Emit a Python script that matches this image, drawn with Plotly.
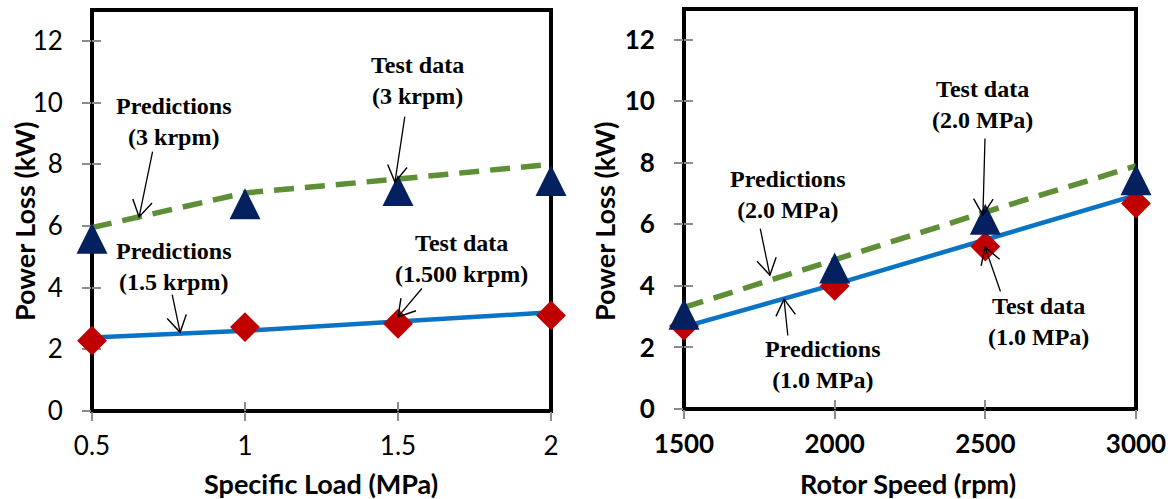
import math
import plotly.graph_objects as go

# ---------------- data ----------------
load_mpa = [0.5, 1.0, 1.5, 2.0]
pred_load_3krpm = [5.95, 7.07, 7.52, 8.0]
test_load_3krpm = [5.6, 6.72, 7.15, 7.47]
pred_load_15krpm = [2.38, 2.6, 2.9, 3.2]
test_load_15krpm = [2.28, 2.72, 2.83, 3.1]

speed_rpm = [1500, 2000, 2500, 3000]
pred_speed_20mpa = [3.3, 4.85, 6.4, 7.9]
test_speed_20mpa = [3.08, 4.58, 6.17, 7.45]
pred_speed_10mpa = [2.67, 4.05, 5.5, 6.95]
test_speed_10mpa = [2.7, 4.0, 5.28, 6.68]

power_ticks = [0, 2, 4, 6, 8, 10, 12]
load_ticks = [0.5, 1, 1.5, 2]
load_tick_text = ["0.5", "1", "1.5", "2"]
speed_ticks = [1500, 2000, 2500, 3000]
speed_tick_text = ["1500", "2000", "2500", "3000"]

# ---------------- style ----------------
W, H = 1170, 499
GREEN = "#5E8E36"
BLUE = "#0A73C4"
NAVY = "#04205E"
RED = "#C00000"
TICK_C = "#8C8C8C"
SANS = "Lato"
SERIF = "Liberation Serif"
Y_RANGE = [0, 13]
LOAD_RANGE = [0.5, 2]
SPEED_RANGE = [1500, 3000]
TRI_SIZE = 31

# plot-area boxes in pixels (left, right, top, bottom)
L_BOX = (92, 551, 10, 411)
R_BOX = (684, 1136, 9, 409)


def dom(box):
    l, r, t, b = box
    return [l / W, r / W], [1 - b / H, 1 - t / H]


L_DOM_X, L_DOM_Y = dom(L_BOX)
R_DOM_X, R_DOM_Y = dom(R_BOX)


def tri_range(box):
    # overlay range shifted so the tip-anchored triangle is centred on its value
    px_per_unit = (box[3] - box[2]) / (Y_RANGE[1] - Y_RANGE[0])
    shift = (TRI_SIZE / 2) / px_per_unit
    return [Y_RANGE[0] - shift, Y_RANGE[1] - shift]


fig = go.Figure()


def add_panel(xa, ya, ya_tri, xs, pred_hi, test_hi, pred_lo, test_lo):
    fig.add_trace(go.Scatter(x=xs, y=pred_hi, mode="lines", xaxis=xa, yaxis=ya,
                             line=dict(color=GREEN, width=5.5, dash="20px,11px"),
                             showlegend=False, hoverinfo="skip"))
    fig.add_trace(go.Scatter(x=xs, y=pred_lo, mode="lines", xaxis=xa, yaxis=ya,
                             line=dict(color=BLUE, width=4.5),
                             showlegend=False, hoverinfo="skip"))
    fig.add_trace(go.Scatter(x=xs, y=test_lo, mode="markers", xaxis=xa, yaxis=ya,
                             marker=dict(symbol="diamond", size=23, color=RED,
                                         line=dict(width=0)),
                             cliponaxis=False, showlegend=False))
    fig.add_trace(go.Scatter(x=xs, y=test_hi, mode="markers", xaxis=xa, yaxis=ya_tri,
                             marker=dict(symbol="arrow-up", size=TRI_SIZE, color=NAVY,
                                         line=dict(width=0)),
                             cliponaxis=False, showlegend=False))


add_panel("x", "y", "y5", load_mpa, pred_load_3krpm, test_load_3krpm,
          pred_load_15krpm, test_load_15krpm)
add_panel("x2", "y2", "y6", speed_rpm, pred_speed_20mpa, test_speed_20mpa,
          pred_speed_10mpa, test_speed_10mpa)


def base_axis(**kw):
    d = dict(showgrid=False, zeroline=False, showline=False, layer="below traces",
             ticks="outside", ticklen=9, tickwidth=1.5, tickcolor=TICK_C)
    d.update(kw)
    return d


def inner_ticks(**kw):
    d = dict(showgrid=False, zeroline=False, showline=False, showticklabels=False,
             ticks="inside", ticklen=9, tickwidth=1.5, tickcolor=TICK_C,
             layer="below traces")
    d.update(kw)
    return d


tick_font_l = dict(family=SANS, size=26, color="black")
tick_font_r = dict(family=SANS, size=26, color="black", weight="bold")

fig.update_layout(
    width=W, height=H,
    margin=dict(l=0, r=0, t=0, b=0, autoexpand=False),
    paper_bgcolor="white", plot_bgcolor="white",
    xaxis=base_axis(domain=L_DOM_X, anchor="y", range=LOAD_RANGE, tickvals=load_ticks,
                    ticktext=load_tick_text, tickfont=tick_font_l, ticklabelstandoff=3),
    yaxis=base_axis(domain=L_DOM_Y, anchor="x", range=Y_RANGE, tickvals=power_ticks,
                    tickfont=tick_font_l, ticklabelstandoff=14),
    xaxis2=base_axis(domain=R_DOM_X, anchor="y2", range=SPEED_RANGE, tickvals=speed_ticks,
                     ticktext=speed_tick_text, tickfont=tick_font_r, ticklabelstandoff=3),
    yaxis2=base_axis(domain=R_DOM_Y, anchor="x2", range=Y_RANGE, tickvals=power_ticks,
                     tickfont=tick_font_r, ticklabelstandoff=14),
    xaxis3=inner_ticks(overlaying="x", anchor="y", range=LOAD_RANGE, tickvals=load_ticks),
    yaxis3=inner_ticks(overlaying="y", anchor="x", range=Y_RANGE, tickvals=power_ticks),
    xaxis4=inner_ticks(overlaying="x2", anchor="y2", range=SPEED_RANGE, tickvals=speed_ticks),
    yaxis4=inner_ticks(overlaying="y2", anchor="x2", range=Y_RANGE, tickvals=power_ticks),
    yaxis5=dict(overlaying="y", anchor="x", range=tri_range(L_BOX), visible=False),
    yaxis6=dict(overlaying="y2", anchor="x2", range=tri_range(R_BOX), visible=False),
)

# invisible helper traces so the tick-only overlay axes are rendered
fig.add_trace(go.Scatter(x=[None], y=[None], xaxis="x3", yaxis="y3", showlegend=False,
                         hoverinfo="skip"))
fig.add_trace(go.Scatter(x=[None], y=[None], xaxis="x4", yaxis="y4", showlegend=False,
                         hoverinfo="skip"))

# plot-area frames
for xr, yr in (("x", "y"), ("x2", "y2")):
    fig.add_shape(type="rect", xref=f"{xr} domain", yref=f"{yr} domain",
                  x0=0, x1=1, y0=0, y1=1, line=dict(color="black", width=4),
                  fillcolor="rgba(0,0,0,0)", layer="below")

# axis titles
title_font = dict(family=SANS, size=27, color="black", weight="bold")
for txt, x, y, ang in (("Power Loss (kW)", 24 / W, 1 - 222 / H, -90),
                       ("Power Loss (kW)", 604 / W, 1 - 222 / H, -90),
                       ("Specific Load (MPa)", 321 / W, 1 - 483 / H, 0),
                       ("Rotor Speed (rpm)", 908 / W, 1 - 483 / H, 0)):
    fig.add_annotation(text=txt, x=x, y=y, xref="paper", yref="paper", showarrow=False,
                       textangle=ang, font=title_font, xanchor="center", yanchor="middle")

# callout labels
lab_font = dict(family=SERIF, size=24, color="black", weight="bold")
labels = [
    ("x", "y", "Predictions<br>(3 krpm)", 0.768, 9.37),
    ("x", "y", "Test data<br>(3 krpm)", 1.565, 10.71),
    ("x", "y", "Predictions<br>(1.5 krpm)", 0.768, 4.68),
    ("x", "y", "Test data<br>(1.500 krpm)", 1.706, 4.93),
    ("x2", "y2", "Test data<br>(2.0 MPa)", 2489, 9.91),
    ("x2", "y2", "Predictions<br>(2.0 MPa)", 1845, 6.97),
    ("x2", "y2", "Predictions<br>(1.0 MPa)", 1961, 1.46),
    ("x2", "y2", "Test data<br>(1.0 MPa)", 2678, 2.86),
]
for xr, yr, txt, x, y in labels:
    fig.add_annotation(text=txt, x=x, y=y, xref=xr, yref=yr, showarrow=False,
                       font=lab_font, xanchor="center", yanchor="middle")

# callout arrows: (axis x, axis y, tail x, tail y, tip x, tip y)
arrows = [
    ("x", "y", 0.699, 8.46, 0.654, 6.29),
    ("x", "y", 1.523, 9.59, 1.490, 7.42),
    ("x", "y", 0.761, 3.82, 0.788, 2.55),
    ("x", "y", 1.582, 4.02, 1.500, 3.05),
    ("x2", "y2", 2499, 8.84, 2492, 6.30),
    ("x2", "y2", 1752, 5.91, 1785, 4.35),
    ("x2", "y2", 1845, 2.34, 1832, 3.57),
    ("x2", "y2", 2552, 3.77, 2499, 5.26),
]
scales = {
    "x": ((L_BOX[1] - L_BOX[0]) / (LOAD_RANGE[1] - LOAD_RANGE[0]),
          (L_BOX[3] - L_BOX[2]) / (Y_RANGE[1] - Y_RANGE[0])),
    "x2": ((R_BOX[1] - R_BOX[0]) / (SPEED_RANGE[1] - SPEED_RANGE[0]),
           (R_BOX[3] - R_BOX[2]) / (Y_RANGE[1] - Y_RANGE[0])),
}
HEAD_LEN = 19
HEAD_ANG = math.radians(31)
for xr, yr, ax, ay, x, y in arrows:
    fig.add_annotation(text="", x=x, y=y, ax=ax, ay=ay, xref=xr, yref=yr,
                       axref=xr, ayref=yr, showarrow=True, arrowhead=0,
                       arrowwidth=1.3, arrowcolor="black")
    sx, sy = scales[xr]
    dx, dy = (x - ax) * sx, (y - ay) * sy
    n = math.hypot(dx, dy)
    ux, uy = dx / n, dy / n
    pts = []
    for s in (1, -1):
        c, si = math.cos(s * HEAD_ANG), math.sin(s * HEAD_ANG)
        rx, ry = ux * c - uy * si, ux * si + uy * c
        pts.append((-HEAD_LEN * rx, -HEAD_LEN * ry))
    path = (f"M{pts[0][0]:.2f},{pts[0][1]:.2f} L0,0 "
            f"L{pts[1][0]:.2f},{pts[1][1]:.2f}")
    fig.add_shape(type="path", xref=xr, yref=yr, xsizemode="pixel", ysizemode="pixel",
                  xanchor=x, yanchor=y, path=path,
                  line=dict(color="black", width=1.4), layer="above")

fig.write_html("out.html")
